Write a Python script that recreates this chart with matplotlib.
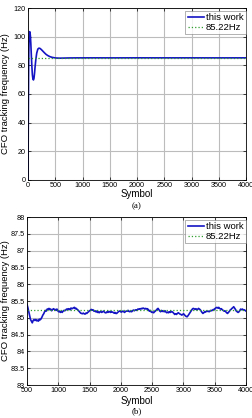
import matplotlib
matplotlib.use("Agg")
import matplotlib.pyplot as plt
import numpy as np

# ---- data (a): transient response ----
sym_a = [0, 5, 10, 15, 20, 25, 30, 37, 45, 52, 60, 70, 80, 90, 100, 110, 120, 130,
         145, 160, 180, 200, 220, 245, 270, 300, 330, 360, 400, 440, 480, 520,
         580, 650, 750, 900, 1200, 1600, 2000, 2500, 3000, 3500, 4000]
cfo_a = [0, 40, 72, 90, 98, 102, 103.5, 103, 100, 95, 88, 80, 73.5, 70.5, 69.8, 71, 74.5, 79,
         84.5, 88.5, 91.3, 92, 91.8, 91, 90, 88.8, 87.7, 86.9, 86.1, 85.6, 85.3, 85.1,
         85.0, 85.05, 85.15, 85.2, 85.22, 85.2, 85.23, 85.21, 85.22, 85.2, 85.22]

# ---- data (b): steady state zoom (sampled evenly from symbol 500 to 4000) ----
cfo_b = [85.40, 85.30, 85.18, 85.05, 84.95, 84.90, 84.85, 84.92, 84.95, 84.92, 84.95, 84.91,
         84.93, 84.90, 84.96, 84.94, 84.97, 85.02, 85.08, 85.12, 85.18, 85.22, 85.20,
         85.26, 85.25, 85.28, 85.24, 85.26, 85.21, 85.24, 85.27, 85.25, 85.25, 85.22,
         85.26, 85.21, 85.18, 85.20, 85.16, 85.19, 85.16, 85.20, 85.22, 85.21, 85.23,
         85.26, 85.24, 85.27, 85.26, 85.24, 85.29, 85.27, 85.28, 85.30, 85.31, 85.27,
         85.28, 85.25, 85.23, 85.20, 85.17, 85.14, 85.13, 85.12, 85.14, 85.12, 85.11,
         85.14, 85.13, 85.16, 85.18, 85.21, 85.22, 85.25, 85.23, 85.24, 85.20, 85.21,
         85.18, 85.20, 85.16, 85.18, 85.15, 85.18, 85.19, 85.16, 85.18, 85.20, 85.17,
         85.15, 85.15, 85.18, 85.16, 85.19, 85.18, 85.16, 85.19, 85.17, 85.16, 85.14,
         85.16, 85.13, 85.13, 85.16, 85.18, 85.20, 85.20, 85.17, 85.18, 85.20, 85.18,
         85.16, 85.19, 85.20, 85.20, 85.22, 85.19, 85.18, 85.20, 85.18, 85.21, 85.23,
         85.21, 85.23, 85.24, 85.22, 85.26, 85.25, 85.27, 85.26, 85.28, 85.27, 85.29,
         85.28, 85.26, 85.28, 85.26, 85.27, 85.24, 85.20, 85.22, 85.18, 85.16, 85.17,
         85.15, 85.18, 85.20, 85.23, 85.26, 85.28, 85.24, 85.20, 85.18, 85.22, 85.19,
         85.20, 85.18, 85.21, 85.17, 85.15, 85.17, 85.15, 85.18, 85.16, 85.19, 85.18,
         85.16, 85.13, 85.10, 85.12, 85.10, 85.13, 85.15, 85.13, 85.11, 85.10, 85.08,
         85.10, 85.12, 85.09, 85.06, 85.04, 85.03, 85.06, 85.10, 85.14, 85.18, 85.22,
         85.26, 85.28, 85.27, 85.25, 85.27, 85.24, 85.25, 85.28, 85.26, 85.24, 85.20,
         85.16, 85.13, 85.15, 85.18, 85.17, 85.20, 85.19, 85.20, 85.18, 85.20, 85.22,
         85.21, 85.23, 85.25, 85.24, 85.28, 85.30, 85.31, 85.29, 85.31, 85.28, 85.26,
         85.27, 85.24, 85.22, 85.20, 85.21, 85.18, 85.15, 85.13, 85.16, 85.19, 85.23,
         85.25, 85.28, 85.30, 85.33, 85.29, 85.25, 85.20, 85.18, 85.16, 85.18, 85.22,
         85.26, 85.24, 85.26, 85.23, 85.24, 85.22, 85.20]
sym_b_range = [500, 4000]

ref_value = 85.22
labels = ["this work", "85.22Hz"]

yticks_a = [0, 20, 40, 60, 80, 100, 120]
xticks_a = [0, 500, 1000, 1500, 2000, 2500, 3000, 3500, 4000]
yticks_b = [83, 83.5, 84, 84.5, 85, 85.5, 86, 86.5, 87, 87.5, 88]
yticklabels_b = ["83", "83.5", "84", "84.5", "85", "85.5", "86", "86.5", "87", "87.5", "88"]
xticks_b = [500, 1000, 1500, 2000, 2500, 3000, 3500, 4000]

sym_b = np.linspace(sym_b_range[0], sym_b_range[1], len(cfo_b))

plt.rcParams['font.family'] = ['Liberation Sans', 'DejaVu Sans']

W, H = 252, 418
fig = plt.figure(figsize=(W / 100, H / 100), dpi=100)

def px_axes(l, r, t, b):
    return fig.add_axes([l / W, 1 - b / H, (r - l) / W, (b - t) / H])

blue = '#1414c4'
green = '#2e9e2e'
gridc = '#bcbcbc'

def style(ax, l, r, t, b, xlab_y):
    ax.grid(True, color=gridc, linewidth=0.8, linestyle='-')
    ax.set_axisbelow(True)
    ax.tick_params(direction='in', length=2, width=0.5, labelsize=5.2,
                   top=True, right=True, pad=1.5)
    for s in ax.spines.values():
        s.set_linewidth(0.6)
    ax.set_xlabel("Symbol", fontsize=7)
    ax.xaxis.label.set_verticalalignment('center')
    ax.xaxis.set_label_coords(0.5, -(xlab_y - b) / (b - t))
    ax.set_ylabel("CFO tracking frequency (Hz)", fontsize=6.8)
    ax.yaxis.set_label_coords(-(l - 10) / (r - l), 0.5)
    leg = ax.legend(labels, loc='upper right', bbox_to_anchor=(1.0, 0.985),
                    fontsize=6.8, frameon=True, fancybox=False,
                    handlelength=1.7, handletextpad=0.25,
                    borderpad=0.25, labelspacing=0.12, borderaxespad=0.0)
    leg.get_frame().set_edgecolor('#777777')
    leg.get_frame().set_linewidth(0.5)

ax1 = px_axes(28, 246, 8, 180)
ax1.plot(sym_a, cfo_a, color=blue, lw=1.2)
ax1.plot([xticks_a[0], xticks_a[-1]], [ref_value, ref_value], color=green, lw=0.9, ls=':')
ax1.set_xlim(0, 4000)
ax1.set_ylim(0, 120)
ax1.set_xticks(xticks_a)
ax1.set_yticks(yticks_a)
style(ax1, 28, 246, 8, 180, 194)

ax2 = px_axes(27, 246, 217, 385)
ax2.plot(sym_b, cfo_b, color=blue, lw=1.2)
ax2.plot([xticks_b[0], xticks_b[-1]], [ref_value, ref_value], color=green, lw=0.9, ls=':')
ax2.set_xlim(500, 4000)
ax2.set_ylim(83, 88)
ax2.set_xticks(xticks_b)
ax2.set_yticks(yticks_b)
ax2.set_yticklabels(yticklabels_b)
style(ax2, 27, 246, 217, 385, 401)

fig.text(137 / W, 1 - 206 / H, "(a)", ha='center', va='center', fontsize=6.5,
         family='Liberation Serif')
fig.text(137 / W, 1 - 411 / H, "(b)", ha='center', va='center', fontsize=6.5,
         family='Liberation Serif')

fig.savefig("out.png", dpi=100)
